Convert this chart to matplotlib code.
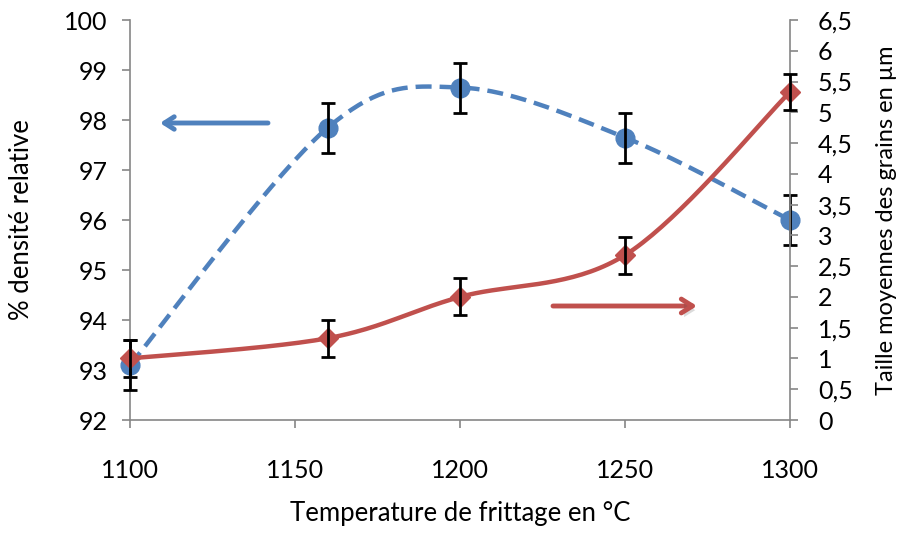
import numpy as np
import matplotlib
matplotlib.use("Agg")
import matplotlib.pyplot as plt
from matplotlib.ticker import FuncFormatter
import matplotlib.patheffects as pe

plt.rcParams['font.family'] = ['Lato', 'DejaVu Sans']

temperatures = [1100, 1160, 1200, 1250, 1300]
densite = [93.1, 97.85, 98.65, 97.65, 96.0]
densite_err = [0.5, 0.5, 0.5, 0.5, 0.5]
taille = [1.0, 1.33, 2.0, 2.68, 5.33]
taille_err = [0.3, 0.3, 0.3, 0.3, 0.3]

blue = '#4F81BD'
red = '#C0504D'
grey = '#868686'


# smooth line like Excel (cubic bezier through the points, computed in pixel space)
def smooth(ax, xs, ys, n=40):
    pts = ax.transData.transform(np.column_stack([xs, ys]))
    out = []
    m = len(pts)
    for i in range(m - 1):
        p0 = pts[i - 1] if i > 0 else pts[i]
        p1 = pts[i]
        p2 = pts[i + 1]
        p3 = pts[i + 2] if i + 2 < m else pts[i + 1]
        c1 = p1 + (p2 - p0) / 6
        c2 = p2 - (p3 - p1) / 6
        t = np.linspace(0, 1, n)[:, None]
        seg = (1 - t) ** 3 * p1 + 3 * (1 - t) ** 2 * t * c1 + 3 * (1 - t) * t ** 2 * c2 + t ** 3 * p2
        out.append(seg if i == 0 else seg[1:])
    out = np.vstack(out)
    d = ax.transData.inverted().transform(out)
    return d[:, 0], d[:, 1]


def noclip(container):
    for child in container.get_children():
        child.set_clip_on(False)


fig = plt.figure(figsize=(9.03, 5.33), dpi=100)
W, H = 903, 533
ax = fig.add_axes([130 / W, (H - 420) / H, 660 / W, 400 / H])
ax2 = ax.twinx()

ax.set_xlim(1100, 1300)
ax.set_ylim(92, 100)
ax2.set_ylim(0, 6.5)

for a in (ax, ax2):
    a.spines['top'].set_visible(False)
    for s in ('left', 'right', 'bottom'):
        a.spines[s].set_color(grey)
        a.spines[s].set_linewidth(1.2)
ax.spines['right'].set_visible(False)
ax2.spines['left'].set_visible(False)
ax2.spines['bottom'].set_visible(False)

ax.set_xticks([1100, 1150, 1200, 1250, 1300])
ax.set_yticks(np.arange(92, 101, 1))
ax2.set_yticks(np.arange(0, 6.51, 0.5))
ax2.yaxis.set_major_formatter(FuncFormatter(lambda v, p: ('%g' % v).replace('.', ',')))

ax.tick_params(axis='x', direction='out', length=6, width=1.2, color=grey, labelsize=18, pad=22)
ax.tick_params(axis='y', direction='out', length=6, width=1.2, color=grey, labelsize=18, pad=10)
ax2.tick_params(axis='y', direction='out', length=6, width=1.2, color=grey, labelsize=18, pad=14)

ax.set_xlabel('Temperature de frittage en °C', fontsize=18.5, labelpad=14)
ax.set_ylabel('% densité relative', fontsize=18.5, labelpad=22)
ax2.set_ylabel('Taille moyennes des grains en µm', fontsize=17, labelpad=17)

# density (left axis)
bx, by = smooth(ax, temperatures, densite)
ax.plot(bx, by, color=blue, lw=3.2, ls=(0, (3.6, 1.8)), zorder=2)
ax.plot(temperatures, densite, 'o', color=blue, ms=13.5, zorder=3, clip_on=False)
eb = ax.errorbar(temperatures, densite, yerr=densite_err, fmt='none', ecolor='black',
                 elinewidth=2, capsize=5, capthick=2, zorder=4)
noclip(eb)

# grain size (right axis)
rx, ry = smooth(ax2, temperatures, taille)
ax2.plot(rx, ry, color=red, lw=3.2, zorder=2)
ax2.plot(temperatures, taille, 'D', color=red, ms=10.5, zorder=3, clip_on=False)
eb2 = ax2.errorbar(temperatures, taille, yerr=taille_err, fmt='none', ecolor='black',
                   elinewidth=2, capsize=5, capthick=2, zorder=4)
noclip(eb2)

# arrows pointing to the axes
ax.annotate('', xy=(160 / W, 1 - 123 / H), xytext=(268 / W, 1 - 123 / H),
            xycoords='figure fraction', textcoords='figure fraction',
            arrowprops=dict(arrowstyle='->,head_length=0.7,head_width=0.45', color=blue, lw=3.5,
                            shrinkA=0, shrinkB=0))
ax2.annotate('', xy=(697 / W, 1 - 306 / H), xytext=(553 / W, 1 - 306 / H),
             xycoords='figure fraction', textcoords='figure fraction',
             arrowprops=dict(arrowstyle='->,head_length=0.8,head_width=0.5', color=red, lw=3.5,
                             shrinkA=0, shrinkB=0,
                             path_effects=[pe.SimplePatchShadow(offset=(2, -3), alpha=0.2), pe.Normal()]))

fig.savefig('out.png', dpi=100)
